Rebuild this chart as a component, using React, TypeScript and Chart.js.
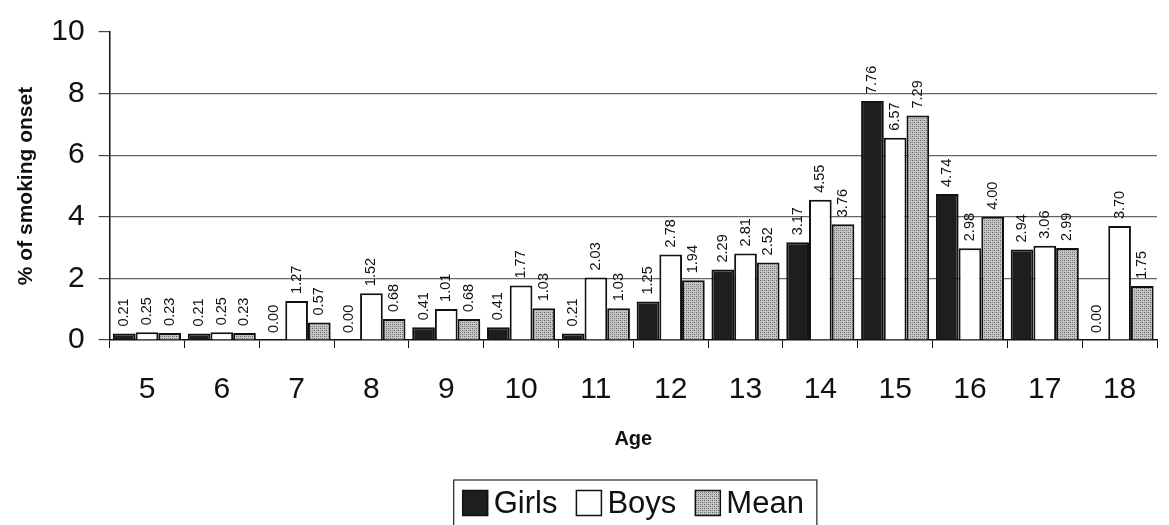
import React, { useEffect, useRef } from "react";
import { Chart, registerables } from "chart.js";

Chart.register(...registerables);

const ages = ["5", "6", "7", "8", "9", "10", "11", "12", "13", "14", "15", "16", "17", "18"];
const girls = [0.21, 0.21, 0.0, 0.0, 0.41, 0.41, 0.21, 1.25, 2.29, 3.17, 7.76, 4.74, 2.94, 0.0];
const boys = [0.25, 0.25, 1.27, 1.52, 1.01, 1.77, 2.03, 2.78, 2.81, 4.55, 6.57, 2.98, 3.06, 3.7];
const mean = [0.23, 0.23, 0.57, 0.68, 0.68, 1.03, 1.03, 1.94, 2.52, 3.76, 7.29, 4.0, 2.99, 1.75];
const yTicks = [0, 2, 4, 6, 8, 10];

const FONT = "'Liberation Sans', Arial, sans-serif";

function makePattern(): CanvasPattern | string {
  const c = document.createElement("canvas");
  c.width = 4;
  c.height = 4;
  const g = c.getContext("2d");
  if (!g) return "#aaa";
  g.fillStyle = "#c4c4c4";
  g.fillRect(0, 0, 4, 4);
  g.fillStyle = "#666";
  g.fillRect(0, 0, 1, 1);
  g.fillRect(2, 2, 1, 1);
  g.fillStyle = "#8f8f8f";
  g.fillRect(2, 0, 1, 1);
  g.fillRect(0, 2, 1, 1);
  const ctx = document.createElement("canvas").getContext("2d");
  const p = ctx ? ctx.createPattern(c, "repeat") : null;
  return p || "#aaa";
}

const valueLabels = {
  id: "valueLabels",
  afterDatasetsDraw(chart: any) {
    const ctx = chart.ctx;
    ctx.save();
    ctx.font = `14.5px ${FONT}`;
    ctx.fillStyle = "#111";
    ctx.textAlign = "left";
    ctx.textBaseline = "middle";
    chart.data.datasets.forEach((ds: any, i: number) => {
      const meta = chart.getDatasetMeta(i);
      meta.data.forEach((bar: any, j: number) => {
        const v = ds.data[j] as number;
        ctx.save();
        ctx.translate(bar.x, bar.y - 7);
        ctx.rotate(-Math.PI / 2);
        ctx.fillText(v.toFixed(2), 0, 0);
        ctx.restore();
      });
    });
    ctx.restore();
  },
};

// Boxed legend under the chart, centred on the plot area
const boxedLegend = {
  id: "boxedLegend",
  afterDraw(chart: any) {
    const ctx = chart.ctx;
    const box = 25;
    const gapText = 6;
    const gapItem = 19;
    const size = 31;
    ctx.save();
    ctx.font = `${size}px ${FONT}`;
    const items = chart.data.datasets.map((ds: any) => ({
      label: ds.label as string,
      fill: ds.backgroundColor,
      w: ctx.measureText(ds.label).width as number,
    }));
    let total = 0;
    items.forEach((it: any, i: number) => {
      total += box + gapText + it.w + (i < items.length - 1 ? gapItem : 0);
    });
    const ca = chart.chartArea;
    const cy = chart.height - 22;
    let x = (ca.left + ca.right) / 2 - total / 2;
    const start = x;
    ctx.textBaseline = "middle";
    ctx.textAlign = "left";
    items.forEach((it: any) => {
      ctx.fillStyle = it.fill;
      ctx.fillRect(x, cy - box / 2, box, box);
      ctx.strokeStyle = "#111";
      ctx.lineWidth = 1.5;
      ctx.strokeRect(x, cy - box / 2, box, box);
      x += box + gapText;
      ctx.fillStyle = "#111";
      ctx.fillText(it.label, x, cy + 1);
      x += it.w + gapItem;
    });
    const end = start + total;
    ctx.strokeStyle = "#222";
    ctx.lineWidth = 1.2;
    ctx.strokeRect(start - 9, cy - 23, end - start + 22, 50);
    ctx.restore();
  },
};

export default function App() {
  const ref = useRef<HTMLCanvasElement>(null);
  useEffect(() => {
    if (!ref.current) return;
    Chart.defaults.font.family = FONT;
    const pattern = makePattern();
    const chart = new Chart(ref.current, {
      type: "bar",
      data: {
        labels: ages,
        datasets: [
          { label: "Girls", data: girls, backgroundColor: "#1e1e1e", borderColor: "#111", borderWidth: 2 },
          { label: "Boys", data: boys, backgroundColor: "#ffffff", borderColor: "#111", borderWidth: 2 },
          { label: "Mean", data: mean, backgroundColor: pattern as any, borderColor: "#111", borderWidth: 2 },
        ],
      },
      plugins: [valueLabels, boxedLegend],
      options: {
        animation: false,
        responsive: true,
        maintainAspectRatio: false,
        datasets: { bar: { categoryPercentage: 0.91, barPercentage: 1.0 } },
        layout: { padding: { left: 14, right: 12, top: 7, bottom: 74 } },
        plugins: {
          legend: { display: false },
          tooltip: { enabled: false },
        },
        scales: {
          x: {
            border: { color: "#111", width: 1.5 },
            grid: { drawOnChartArea: false, color: "#111", tickLength: 8, offset: true },
            ticks: { color: "#111", font: { size: 30 }, padding: 24 },
            title: { display: true, text: "Age", color: "#111", font: { size: 20, weight: "bold" }, padding: { top: -5, bottom: 0 } },
          },
          y: {
            min: 0,
            max: 10,
            afterBuildTicks(scale: any) {
              scale.ticks = yTicks.map((v) => ({ value: v }));
            },
            border: { color: "#111", width: 1.5 },
            grid: {
              color: (c: any) => (c.tick && (c.tick.value === 0 || c.tick.value === 10) ? "rgba(0,0,0,0)" : "#666"),
              tickColor: "#444",
              tickLength: 11,
              lineWidth: 1.2,
            },
            ticks: { color: "#111", font: { size: 30 }, padding: 14 },
            title: { display: true, text: "% of smoking onset", color: "#111", font: { size: 21, weight: "bold" }, padding: { top: 0, bottom: -2 } },
          },
        },
      },
    });
    return () => chart.destroy();
  }, []);
  return (
    <div style={{ position: "fixed", left: 0, top: 0, width: 1169, height: 525, background: "#fff" }}>
      <canvas ref={ref} />
    </div>
  );
}
